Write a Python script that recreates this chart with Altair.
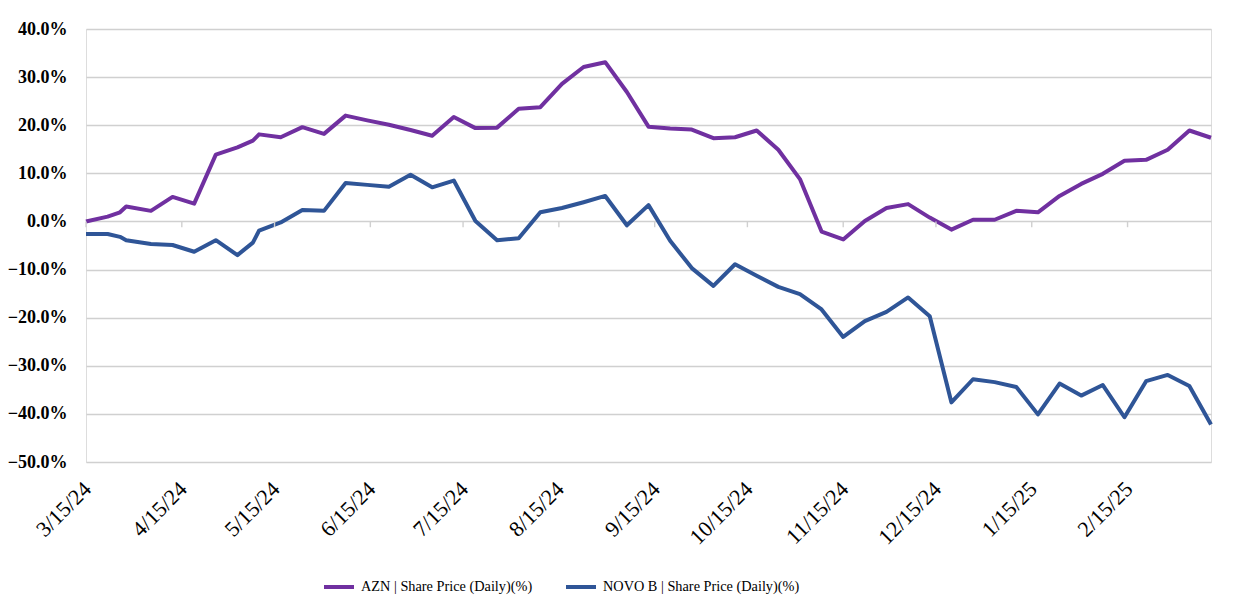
import altair as alt
import pandas as pd

dates = [
    "2024-03-15", "2024-03-22", "2024-03-26", "2024-03-28", "2024-04-05", "2024-04-12",
    "2024-04-19", "2024-04-26", "2024-05-03", "2024-05-08", "2024-05-10", "2024-05-17",
    "2024-05-24", "2024-05-31", "2024-06-07", "2024-06-14", "2024-06-21", "2024-06-28",
    "2024-07-05", "2024-07-12", "2024-07-19", "2024-07-26", "2024-08-02", "2024-08-09",
    "2024-08-16", "2024-08-23", "2024-08-30", "2024-09-06", "2024-09-13", "2024-09-20",
    "2024-09-27", "2024-10-04", "2024-10-11", "2024-10-18", "2024-10-25", "2024-11-01",
    "2024-11-08", "2024-11-15", "2024-11-22", "2024-11-29", "2024-12-06", "2024-12-13",
    "2024-12-20", "2024-12-27", "2025-01-03", "2025-01-10", "2025-01-17", "2025-01-24",
    "2025-01-31", "2025-02-07", "2025-02-14", "2025-02-21", "2025-02-28", "2025-03-07",
    "2025-03-14",
]

azn = [
    0.0, 1.0, 1.9, 3.1, 2.2, 5.1,
    3.7, 13.9, 15.4, 16.8, 18.1, 17.5,
    19.6, 18.2, 22.0, 21.0, 20.1, 19.0,
    17.8, 21.7, 19.4, 19.5, 23.4, 23.75,
    28.6, 32.1, 33.1, 26.9, 19.7, 19.3,
    19.1, 17.3, 17.5, 18.9, 14.9, 8.8,
    -2.1, -3.75, 0.1, 2.8, 3.6, 0.8,
    -1.7, 0.35, 0.35, 2.2, 1.9, 5.3,
    7.8, 9.9, 12.6, 12.8, 14.9, 18.9,
    17.4,
]

novo = [
    -2.6, -2.6, -3.2, -3.9, -4.7, -4.9,
    -6.3, -3.9, -7.0, -4.4, -1.9, -0.2,
    2.4, 2.2, 8.0, 7.6, 7.2, 9.7,
    7.1, 8.5, 0.1, -3.9, -3.5, 1.9,
    2.8, 4.0, 5.3, -0.8, 3.4, -4.0,
    -9.7, -13.4, -8.9, -11.3, -13.6, -15.1,
    -18.3, -24.0, -20.7, -18.8, -15.8, -19.7,
    -37.6, -32.8, -33.4, -34.4, -40.1, -33.7,
    -36.2, -34.0, -40.7, -33.2, -31.9, -34.2,
    -42.2,
]

series_names = ["AZN | Share Price (Daily)(%)", "NOVO B | Share Price (Daily)(%)"]
series_colors = ["#7030A0", "#2F5597"]

tick_dates = [
    "2024-03-15", "2024-04-15", "2024-05-15", "2024-06-15", "2024-07-15", "2024-08-15",
    "2024-09-15", "2024-10-15", "2024-11-15", "2024-12-15", "2025-01-15", "2025-02-15",
]
y_ticks = [-50, -40, -30, -20, -10, 0, 10, 20, 30, 40]

n = len(dates)
df = pd.DataFrame({
    "date": dates + dates,
    "value": azn + novo,
    "series": [series_names[0]] * n + [series_names[1]] * n,
})
ticks_df = pd.DataFrame({"date": tick_dates})


def dt(s):
    y, m, d = (int(p) for p in s.split("-"))
    return alt.DateTime(year=y, month=m, date=d, utc=True)


x_scale = alt.Scale(type="utc", domain=[dt(dates[0]), dt(dates[-1])], nice=False)
y_scale = alt.Scale(domain=[y_ticks[0], y_ticks[-1]], nice=False, zero=False)

x_axis = alt.Axis(
    values=[dt(t) for t in tick_dates],
    labelExpr="utcFormat(datum.value, '%-m/%d/%y')",
    labelAngle=315,
    labelFont="Liberation Serif",
    labelFontSize=22,
    labelFontWeight="normal",
    labelColor="#000000",
    labelPadding=16,
    labelOffset=-6,
    domain=False,
    ticks=False,
    grid=False,
    labelOverlap=False,
)

y_axis = alt.Axis(
    values=y_ticks,
    labelExpr="format(datum.value, '.1f') + '%'",
    labelFont="Liberation Serif",
    labelFontSize=18,
    labelFontWeight="bold",
    labelColor="#000000",
    labelPadding=19,
    domain=False,
    ticks=False,
    grid=True,
    gridColor="#d0d0d0",
    gridWidth=1.4,
)

lines = alt.Chart(df).mark_line(strokeWidth=4, strokeJoin="round").encode(
    x=alt.X("date:T", scale=x_scale, title=None, axis=x_axis),
    y=alt.Y("value:Q", scale=y_scale, title=None, axis=y_axis),
    color=alt.Color(
        "series:N",
        scale=alt.Scale(domain=series_names, range=series_colors),
        legend=alt.Legend(
            title=None,
            orient="none",
            direction="horizontal",
            legendX=236,
            legendY=541,
            symbolType="stroke",
            symbolStrokeWidth=4,
            symbolSize=900,
            labelFont="Liberation Serif",
            labelFontSize=14.3,
            labelColor="#000000",
            labelOffset=5,
            labelLimit=0,
            columnPadding=25,
        ),
    ),
    order=alt.Order("date:T"),
)

axis_ticks = alt.Chart(ticks_df).mark_rule(color="#d0d0d0", strokeWidth=1.4).encode(
    x=alt.X("date:T", scale=x_scale, title=None, axis=x_axis),
    y=alt.datum(0),
    y2=alt.datum(-1.2),
)

chart = alt.layer(lines, axis_ticks).properties(
    width=1125,
    height=433,
    autosize=alt.AutoSizeParams(type="none"),
    padding={"left": 78, "top": 21, "right": 30, "bottom": 140},
).configure_view(stroke=None).configure(background="white")

chart.save("out.html", embed_options={"renderer": "svg", "actions": False})
